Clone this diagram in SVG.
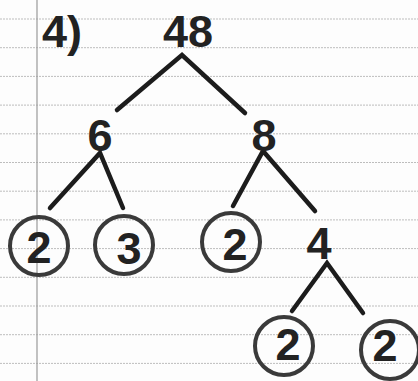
<svg xmlns="http://www.w3.org/2000/svg" width="418" height="381" viewBox="0 0 418 381">
<style>
.rule{stroke:#bdbdbd;stroke-width:1;stroke-dasharray:2 1}
.margin{stroke:#9a9a9a;stroke-width:1.2}
.num{font-family:"Liberation Sans",Arial,sans-serif;font-weight:bold;font-size:45px;fill:#222;text-anchor:middle}
.ring{fill:none;stroke:#3a3a3a;stroke-width:4}
.edge{stroke:#1c1c1c;stroke-width:4.5;stroke-linecap:round;fill:none}
</style>
<rect width="418" height="381" fill="#fdfdfd"/>
<g id="paper">
<line class="rule" x1="0" y1="19" x2="418" y2="19"/>
<line class="rule" x1="0" y1="47.7" x2="418" y2="47.7"/>
<line class="rule" x1="0" y1="76.4" x2="418" y2="76.4"/>
<line class="rule" x1="0" y1="105.1" x2="418" y2="105.1"/>
<line class="rule" x1="0" y1="133.8" x2="418" y2="133.8"/>
<line class="rule" x1="0" y1="162.5" x2="418" y2="162.5"/>
<line class="rule" x1="0" y1="191.2" x2="418" y2="191.2"/>
<line class="rule" x1="0" y1="219.9" x2="418" y2="219.9"/>
<line class="rule" x1="0" y1="248.6" x2="418" y2="248.6"/>
<line class="rule" x1="0" y1="277.3" x2="418" y2="277.3"/>
<line class="rule" x1="0" y1="306" x2="418" y2="306"/>
<line class="rule" x1="0" y1="334.7" x2="418" y2="334.7"/>
<line class="rule" x1="0" y1="363.4" x2="418" y2="363.4"/>
<line class="margin" x1="37" y1="0" x2="37" y2="381"/>
</g>
<g id="label"><text class="num" x="42" y="47" style="text-anchor:start">4)</text></g>
<g id="connectors">
<polyline class="edge" points="117,110 182,55 245,113"/>
<polyline class="edge" points="50,208 100,153 123,208"/>
<polyline class="edge" points="233,206 263,151 315,211"/>
<polyline class="edge" points="292,311 327,263 363,313"/>
</g>
<g id="n48"><text class="num" x="188" y="47">48</text></g>
<g id="n6"><text class="num" x="100" y="151">6</text></g>
<g id="n8"><text class="num" x="264" y="151">8</text></g>
<g id="n2a"><circle class="ring" cx="39" cy="246" r="29"/><text class="num" x="39" y="263">2</text></g>
<g id="n3"><circle class="ring" cx="124" cy="245" r="29"/><text class="num" x="129" y="264">3</text></g>
<g id="n2b"><circle class="ring" cx="231" cy="242" r="29"/><text class="num" x="235" y="260">2</text></g>
<g id="n4"><text class="num" x="319" y="259">4</text></g>
<g id="n2c"><circle class="ring" cx="284" cy="346" r="29"/><text class="num" x="288" y="360">2</text></g>
<g id="n2d"><circle class="ring" cx="390" cy="350" r="29"/><text class="num" x="385" y="361">2</text></g>
</svg>
